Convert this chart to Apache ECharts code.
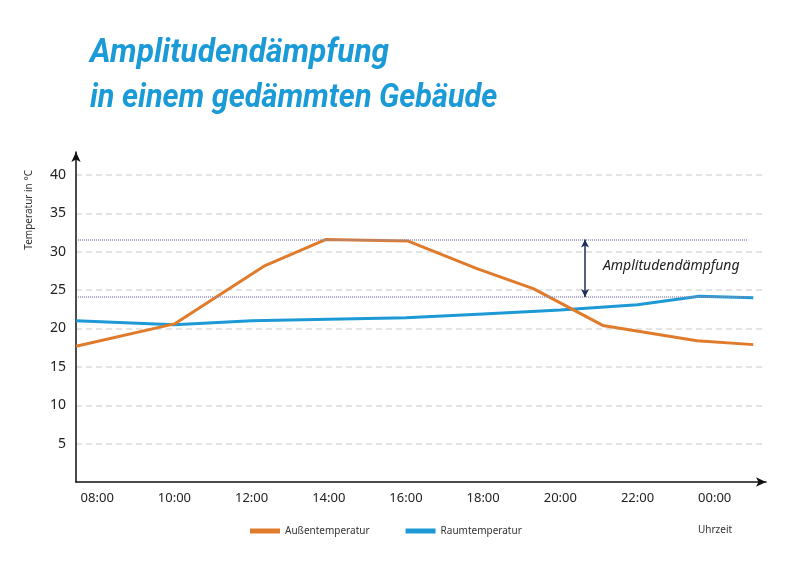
<!DOCTYPE html>
<html>
<head>
<meta charset="utf-8">
<script src="https://cdn.jsdelivr.net/npm/echarts@6/dist/echarts.min.js"></script>
<style>
html,body{margin:0;padding:0;background:#fff;}
#chart{width:800px;height:574px;}
</style>
</head>
<body>
<div id="chart"></div>
<script>
// Uhrzeit in Stunden (24 = 00:00 am naechsten Tag)
var hourTicks = [8, 10, 12, 14, 16, 18, 20, 22, 24];
var yTicks = [5, 10, 15, 20, 25, 30, 35, 40];
var aussenHours = [7.45, 10, 12.35, 13.93, 16.06, 17.84, 19.3, 21.1, 23.54, 25.0];
var aussenTemp  = [17.7, 20.6, 28.2, 31.6, 31.4, 27.8, 25.2, 20.4, 18.4, 17.9];
var raumHours = [7.45, 10, 12, 14, 16, 18, 20, 22, 23.6, 25.0];
var raumTemp  = [21.0, 20.5, 21.0, 21.2, 21.4, 21.9, 22.4, 23.1, 24.2, 24.0];
var maxLevel = 31.6, minLevel = 24.1, arrowHour = 20.64;
var refFrom = 7.5, refTo = 24.86;

function pairs(xs, ys){
  var out = [];
  for (var i = 0; i < xs.length; i++) out.push([xs[i], ys[i]]);
  return out;
}

var titleStyle = {
  fill: '#1a9ad7',
  fontSize: 34,
  fontWeight: 'bold',
  fontStyle: 'italic',
  fontFamily: 'Roboto'
};

var chart = echarts.init(document.getElementById('chart'));
chart.setOption({
  backgroundColor: '#fff',
  animation: false,
  grid: { left: 76, right: 34, top: 152, bottom: 92 },
  legend: {
    left: 245, top: 521,
    itemWidth: 30, itemHeight: 5, itemGap: 36,
    icon: 'rect',
    textStyle: { fontSize: 10, color: '#333', fontFamily: 'Noto Sans' },
    data: ['Außentemperatur', 'Raumtemperatur']
  },
  xAxis: {
    type: 'value',
    min: 7.45, max: 25.33,
    axisLine: { show: true, symbol: ['none', 'arrow'], symbolSize: [7, 10], lineStyle: { color: '#111', width: 1.5 } },
    axisTick: { show: false },
    splitLine: { show: false },
    axisLabel: {
      customValues: hourTicks,
      margin: 10,
      fontSize: 13, color: '#222', fontFamily: 'Noto Sans',
      formatter: function (v) {
        var h = Math.round(v) % 24;
        return (h < 10 ? '0' : '') + h + ':00';
      }
    }
  },
  yAxis: {
    type: 'value',
    min: 0, max: 43,
    axisLine: { show: true, symbol: ['none', 'arrow'], symbolSize: [7, 10], lineStyle: { color: '#111', width: 1.5 } },
    axisTick: { show: false, customValues: yTicks },
    axisLabel: { customValues: yTicks, margin: 10, fontSize: 14, color: '#222', fontFamily: 'Noto Sans' },
    splitLine: { show: true, lineStyle: { color: '#dcdcdc', width: 1.5, type: [6, 4] } }
  },
  graphic: [
    { type: 'text', left: 90, top: 36, scaleX: 0.93,
      style: echarts.util.extend({ text: 'Amplitudendämpfung' }, titleStyle) },
    { type: 'text', left: 90, top: 81, scaleX: 0.9,
      style: echarts.util.extend({ text: 'in einem gedämmten Gebäude' }, titleStyle) },
    { type: 'text', left: 24, top: 170, rotation: Math.PI / 2,
      style: { text: 'Temperatur in °C', fontSize: 10, fill: '#333', fontFamily: 'Noto Sans' } },
    { type: 'text', left: 603, top: 259,
      style: { text: 'Amplitudendämpfung', fontSize: 14, fontStyle: 'italic', fill: '#222', fontFamily: 'Noto Sans' } },
    { type: 'text', left: 698, top: 525,
      style: { text: 'Uhrzeit', fontSize: 10, fill: '#333', fontFamily: 'Noto Sans' } }
  ],
  series: [
    {
      name: 'Außentemperatur', type: 'line',
      data: pairs(aussenHours, aussenTemp),
      showSymbol: false, symbol: 'none',
      color: '#e07b2c',
      lineStyle: { width: 3 },
      z: 3
    },
    {
      name: 'Raumtemperatur', type: 'line',
      data: pairs(raumHours, raumTemp),
      showSymbol: false, symbol: 'none',
      color: '#1d9ad6',
      lineStyle: { width: 3 },
      z: 2,
      markLine: {
        silent: true,
        label: { show: false },
        data: [
          [{ coord: [refFrom, maxLevel], symbol: 'none', lineStyle: { color: '#8e8eb0', width: 1.5, type: [1, 1] } },
           { coord: [refTo, maxLevel], symbol: 'none' }],
          [{ coord: [refFrom, minLevel], symbol: 'none', lineStyle: { color: '#8e8eb0', width: 1.5, type: [1, 1] } },
           { coord: [refTo, minLevel], symbol: 'none' }],
          [{ coord: [arrowHour, maxLevel], symbol: 'arrow', symbolSize: [6, 8], lineStyle: { color: '#1e2d55', width: 1.5, type: 'solid' } },
           { coord: [arrowHour, minLevel], symbol: 'arrow', symbolSize: [6, 8] }]
        ]
      }
    }
  ]
});
</script>
</body>
</html>
